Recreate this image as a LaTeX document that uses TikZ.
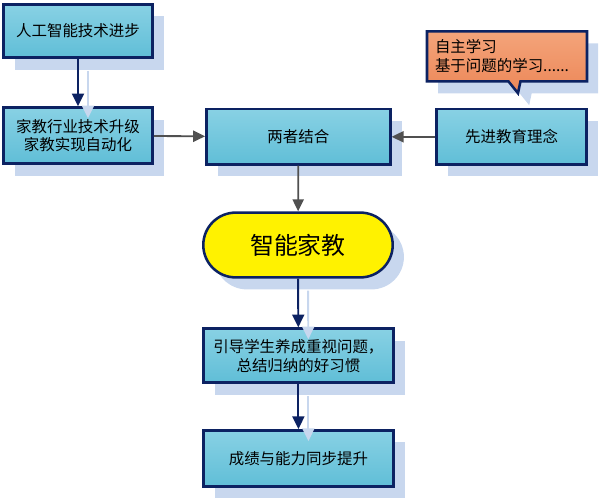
\documentclass[tikz,border=0pt]{standalone}
\usepackage{fontspec}
\setmainfont{Noto Sans CJK SC}
\usetikzlibrary{shapes.misc,shapes.callouts,shadows,arrows.meta}
\definecolor{boxnavy}{RGB}{12,34,98}
\definecolor{boxlight}{RGB}{136,209,228}
\definecolor{boxdark}{RGB}{96,190,215}
\definecolor{shadowblue}{RGB}{200,215,238}
\definecolor{notelight}{RGB}{244,164,122}
\definecolor{notedark}{RGB}{236,135,88}
\definecolor{linkgray}{RGB}{80,80,80}

\begin{document}
\begin{tikzpicture}[
  every node/.style={font=\fontsize{11}{13.5}\selectfont, text=black},
  myshadow/.style={drop shadow={shadow xshift=0.28cm, shadow yshift=-0.3cm, fill=shadowblue, opacity=1}},
  box/.style={draw=boxnavy, line width=1.8pt, top color=boxlight, bottom color=boxdark,
    myshadow, align=center, inner sep=2pt},
  note/.style={rectangle callout, draw=boxnavy, line width=1.8pt, top color=notelight,
    bottom color=notedark, myshadow, align=left, text width=3.6cm, inner xsep=0.2cm,
    minimum height=1.25cm, callout pointer width=0.3cm},
  goal/.style={rounded rectangle, draw=boxnavy, line width=1.8pt, fill=yellow, myshadow,
    minimum width=4.97cm, minimum height=1.62cm, font=\fontsize{17}{20}\selectfont},
  navyarrow/.style={draw=boxnavy, line width=1.4pt, -{Triangle[length=0.32cm,width=0.3cm]}},
  lightarrow/.style={draw=shadowblue, line width=1.4pt, -{Triangle[length=0.32cm,width=0.3cm]},
    transform canvas={shift={(0.25cm,-0.3cm)}}},
  grayarrow/.style={draw=linkgray, line width=1.3pt, -{Triangle[length=0.3cm,width=0.28cm]}}
]
\useasboundingbox (0,0) rectangle (15.025,-12.525);

% left column
\node[box, minimum width=3.73cm, minimum height=1.33cm] (ai) at (1.95,-0.775) {人工智能技术进步};
\node[box, minimum width=3.73cm, minimum height=1.4cm] (upgrade) at (1.95,-3.39) {家教行业技术升级\\家教实现自动化};

% middle row
\node[box, minimum width=4.6cm, minimum height=1.38cm] (both) at (7.46,-3.42) {两者结合};
\node[box, minimum width=3.75cm, minimum height=1.38cm] (idea) at (12.79,-3.42) {先进教育理念};
\node[note, callout absolute pointer={(12.95,-2.33)}] (bubble) at (12.675,-1.41) {自主学习\\基于问题的学习......};

% center column
\node[goal] (smart) at (7.45,-6.125) {智能家教};
\node[box, minimum width=4.75cm, minimum height=1.35cm] (habit) at (7.46,-8.89) {引导学生养成重视问题，\\总结归纳的好习惯};
\node[box, minimum width=4.75cm, minimum height=1.4cm] (result) at (7.46,-11.46) {成绩与能力同步提升};

% connectors
\draw[lightarrow] (ai) -- (upgrade);
\draw[navyarrow] (ai) -- (upgrade);
\draw[grayarrow] (upgrade) -- (both);
\draw[grayarrow] (idea) -- (both);
\draw[grayarrow] (both) -- (smart);
\draw[lightarrow] (smart) -- (habit);
\draw[navyarrow] (smart) -- (habit);
\draw[lightarrow] (habit) -- (result);
\draw[navyarrow] (habit) -- (result);
\end{tikzpicture}
\end{document}
